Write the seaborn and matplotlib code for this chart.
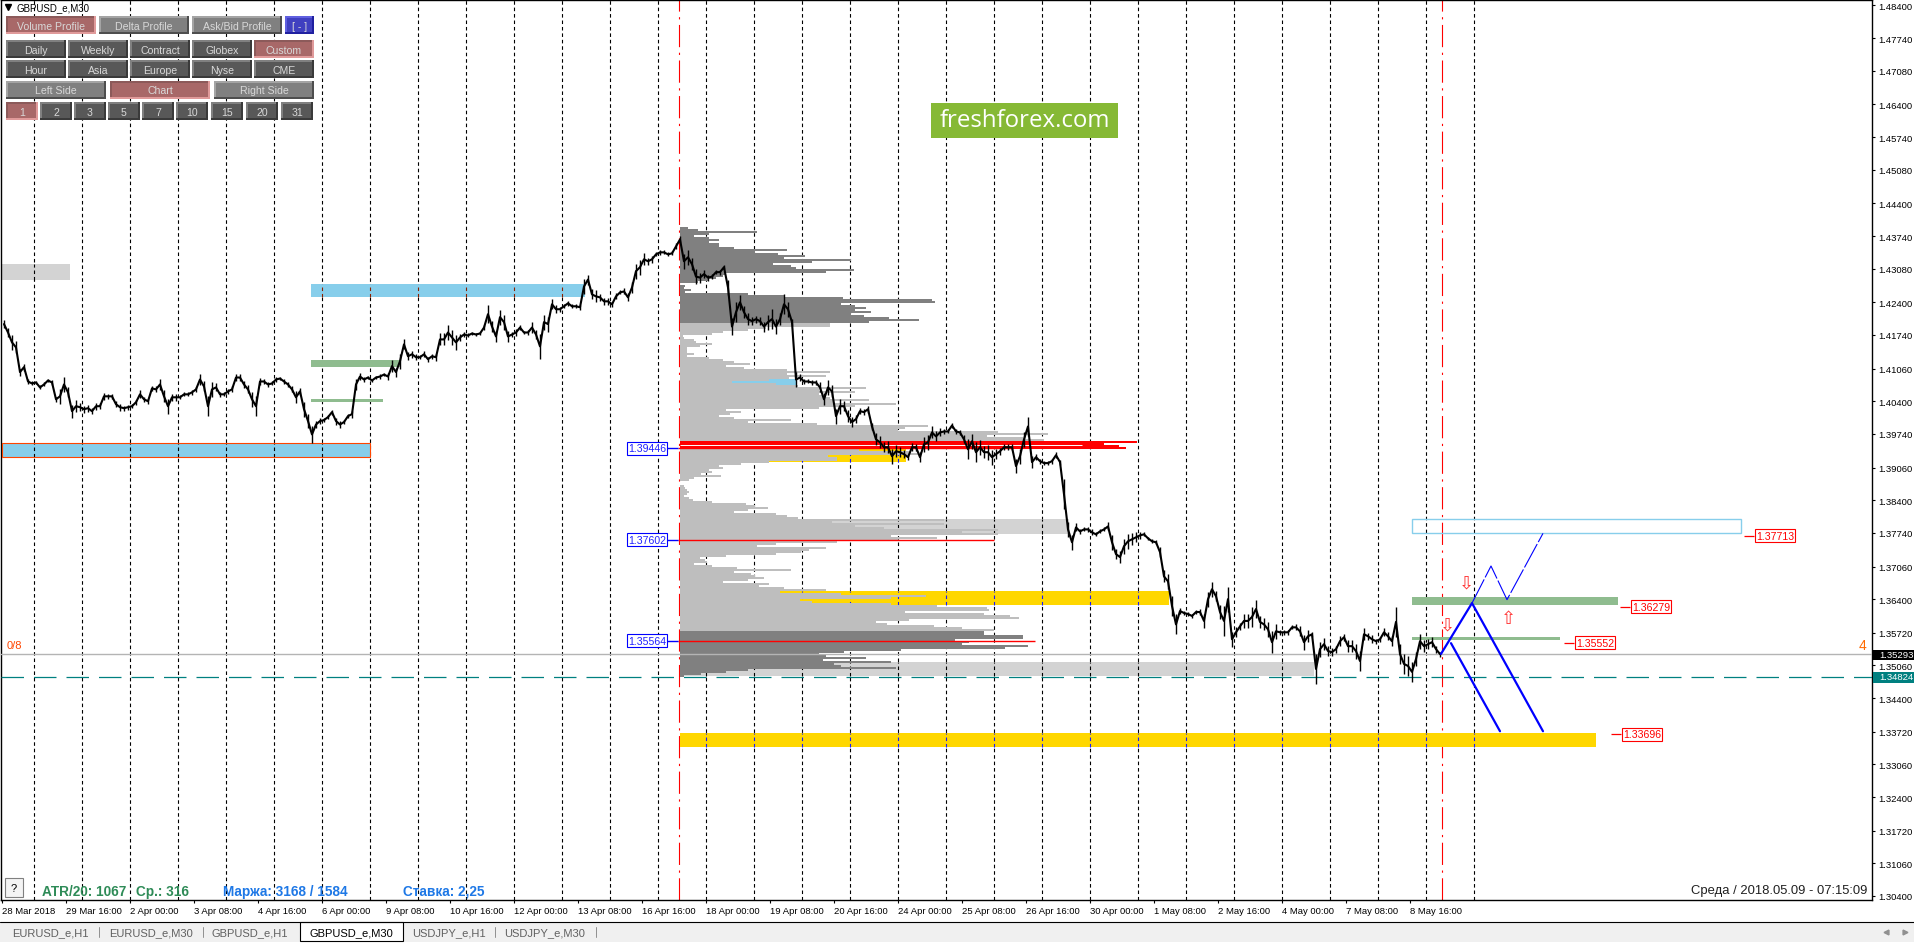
import numpy as np
import matplotlib
matplotlib.use("Agg")
import matplotlib.pyplot as plt
from matplotlib.patches import Rectangle
import seaborn as sns

# price path, every 4 bars
price_a = [1.4196,1.4179,1.4159,1.4149,1.4099,1.4109,1.4080,1.4076,1.4078,1.4068,1.4074,1.4082,1.4078,1.4044,1.4050,1.4074,1.4058,1.4020,1.4030,1.4028,
           1.4024,1.4026,1.4020,1.4030,1.4030,1.4050,1.4050,1.4050,1.4034,1.4028,1.4026,1.4028,1.4030,1.4038,1.4054,1.4044,1.4040,1.4066,1.4064,1.4074,
           1.4050,1.4030,1.4048,1.4048,1.4048,1.4054,1.4054,1.4058,1.4064,1.4084,1.4070,1.4030,1.4064,1.4068,1.4054,1.4054,1.4060,1.4064,1.4088,1.4088,
           1.4074,1.4064,1.4044,1.4030,1.4080,1.4080,1.4074,1.4076,1.4084,1.4086,1.4080,1.4074,1.4064,1.4048,1.4060,1.4024,1.4000,1.3973,1.3993,1.4000,
           1.4002,1.4008,1.4018,1.4000,1.3993,1.3998,1.4010,1.4014,1.4074,1.4090,1.4084,1.4088,1.4082,1.4088,1.4090,1.4094,1.4090,1.4111,1.4099]
price_b = [1.4121,1.4155,1.4131,1.4135,1.4129,1.4129,1.4135,1.4125,1.4131,1.4129,1.4165,1.4165,1.4179,1.4169,1.4159,1.4169,1.4175,1.4173,1.4177,1.4175,
           1.4177,1.4189,1.4216,1.4191,1.4171,1.4210,1.4200,1.4171,1.4175,1.4179,1.4189,1.4179,1.4179,1.4189,1.4175,1.4151,1.4200,1.4196,1.4236,1.4226,
           1.4226,1.4232,1.4238,1.4232,1.4232,1.4230,1.4272,1.4286,1.4256,1.4252,1.4250,1.4242,1.4242,1.4236,1.4252,1.4260,1.4262,1.4250,1.4270,1.4303,
           1.4311,1.4327,1.4323,1.4327,1.4337,1.4341,1.4341,1.4337,1.4339,1.4353,1.4367,1.4323,1.4331,1.4317,1.4292]
price_c = [1.4290,1.4297,1.4290,1.4292,1.4301,1.4301,1.4311,1.4270,1.4191,1.4220,1.4240,1.4220,1.4206,1.4202,1.4206,1.4202,1.4191,1.4200,1.4206,1.4191,
           1.4206,1.4236,1.4226,1.4200,1.4084,1.4088,1.4080,1.4080,1.4078,1.4078,1.4068,1.4044,1.4068,1.4060,1.4010,1.4030,1.4030,1.4010,1.3998,1.4004,
           1.4020,1.4018,1.4024,1.3989,1.3963,1.3957,1.3947,1.3947,1.3929,1.3939,1.3937,1.3933,1.3927,1.3947,1.3947,1.3927,1.3953,1.3957,1.3977,1.3969,
           1.3977,1.3979,1.3979,1.3991,1.3979,1.3977,1.3963,1.3943,1.3959,1.3937,1.3947,1.3937,1.3937,1.3927,1.3933,1.3939,1.3947,1.3947,1.3947,1.3909,
           1.3929,1.3963,1.3989,1.3917,1.3927,1.3919,1.3915,1.3915,1.3919,1.3931,1.3917]
price_d = [1.3852,1.3781,1.3755,1.3785,1.3777,1.3781,1.3781,1.3775,1.3771,1.3777,1.3781,1.3787,1.3755,1.3731,1.3725,1.3747,1.3757,1.3761,1.3765,1.3769,
           1.3771,1.3763,1.3757,1.3755,1.3735,1.3686,1.3676,1.3626,1.3589,1.3616,1.3612,1.3610,1.3606,1.3614,1.3614,1.3596,1.3640,1.3660,1.3646,1.3614,
           1.3596,1.3640,1.3559,1.3573,1.3585,1.3596,1.3596,1.3604,1.3620,1.3594,1.3589,1.3579,1.3553,1.3575,1.3573,1.3573,1.3573,1.3583,1.3583,1.3575,
           1.3553,1.3565,1.3569,1.3499,1.3539,1.3549,1.3535,1.3533,1.3539,1.3555,1.3563,1.3545,1.3545,1.3535,1.3515,1.3569,1.3565,1.3559,1.3555,1.3559,
           1.3573,1.3565,1.3555,1.3594,1.3529,1.3509,1.3505,1.3493,1.3519,1.3555,1.3545,1.3549,1.3553,1.3539,1.3529]

# high-low range around the path in pips, same 4-bar steps
range_a = [16,20,30,24,14,14,10,8,6,8,8,8,10,10,30,30,20,26,24,16,14,14,12,14,12,14,10,10,12,14,10,10,8,10,16,10,10,10,12,24,
           24,30,14,14,8,8,8,10,10,24,20,40,30,16,10,8,10,12,16,14,14,16,30,40,16,12,10,8,12,8,12,10,12,24,14,30,30,36,16,12,
           8,8,10,14,16,8,8,14,24,14,12,8,8,8,10,6,14,24,18]
range_b = [30,20,16,14,12,8,12,10,10,14,24,24,30,30,30,14,10,8,8,6,8,10,36,24,24,30,30,24,12,16,10,8,10,24,20,50,30,30,20,16,
           10,8,10,8,8,10,30,20,20,24,14,14,14,10,12,8,12,16,24,30,30,24,14,14,8,10,8,8,8,12,16,30,30,24,30]
range_c = [20,16,12,10,8,10,8,30,36,40,30,24,24,16,14,16,20,30,40,30,24,40,30,14,30,14,10,8,10,10,20,24,30,24,30,30,20,24,20,16,
           12,12,14,14,24,24,20,24,30,24,20,16,10,16,14,20,30,30,24,20,16,10,8,10,10,10,16,40,30,40,30,24,30,30,20,14,12,12,12,30,
           30,30,40,24,12,10,8,8,10,12,10]
range_d = [60,30,30,16,10,8,10,12,8,8,8,16,30,20,24,30,30,24,20,14,8,6,8,8,20,24,30,40,40,14,10,8,10,8,12,30,30,30,20,30,
           60,50,30,20,14,30,30,40,36,24,24,30,44,30,10,10,10,8,12,20,30,24,10,60,30,24,20,16,14,20,14,24,24,30,40,24,14,16,10,10,
           16,16,20,60,40,40,40,40,30,30,24,20,20,14,10]

# volume profile, one row per price bin, width in bars
profile_top = 1.43905
profile_step = 0.000404
profile_dark_a = [8,18,77,29,14,29,39,29,39,39,54,107,75,98,125,104,171,132,93,111,116,174,146,46,43,36,29,18,0,5,4,11,5]
profile_dark_b = [68,104,163,252,255,161,175,186,175,191,171,184,209,239,189]
profile_light_a = [150,150,86,68,43,32,3,4,14,16,32,20,7,7,7,14,7,29,43,54,70,46,64,107,150,107,146,109,
                   89,52,96,118,186,139,175,139,146,150,189,154,216,175,139,46,61,50,39,54,111,68,137,248,225,218,318,368,307,343,364]
profile_poc = [457,424,439,446]
profile_light_b = [179,229,239,148,157,157,89,61,39,43,29,32,21,41,14,9,0,0,4,5,7,9,7,4,9,13,32,66,75,88,68,54,96,107,118,264,152,264,175,204,
                   318,282,318,211,257,218,157,96,77,146,129,121,96,46,20,25,27,14,32,57,111,54,71,75,84,68,43,89,79,104,146,100,161,246,211,120,
                   132,211,257,307,309,225,304,330,339,229,196,207,254,282,314]
profile_dark_c = [304,304,343,343,275,289,282,348,325,221,164,139,146,186,143,211,154,161,216,68,46,21,4]

# zones: first bar, last bar, upper price, lower price
zone_names = ["grey_old","sky_top","sky_left","green_a","green_b","sky_inner","yellow_a","grey_mid","yellow_b","grey_low","yellow_c","green_c","green_d"]
zone_start = [0,309,0,309,309,678,678,678,678,678,678,1410,1410]
zone_end = [68,583,368,398,381,795,904,1067,1167,1312,1594,1616,1558]
zone_high = [1.4317,1.4278,1.3956,1.4123,1.4044,1.4084,1.3943,1.3802,1.3656,1.3513,1.3369,1.3644,1.3563]
zone_low = [1.4286,1.4251,1.3927,1.4109,1.4038,1.4070,1.3917,1.3771,1.3628,1.3485,1.3342,1.3628,1.3557]
zone_colour = ["#d3d3d3","#87ceeb","#87ceeb","#8fbc8f","#8fbc8f","#87ceeb","#ffd700","#d3d3d3","#ffd700","#d3d3d3","#ffd700","#8fbc8f","#8fbc8f"]
zone_dash = ["black","#8b2000","black",None,None,None,"#1a1aff","black","#1a1aff","black","#1a1aff",None,None]

# scenario lines
plan_bars = [1439,1470,1541]
plan_price = [1.35293,1.3632,1.3373]
plan2_bars = [1449,1498]
plan2_price = [1.3551,1.3373]
alt_bars = [1470,1489,1505,1541]
alt_price = [1.3632,1.3707,1.3639,1.3773]

# axis labels
y_ticks = [1.48400,1.47740,1.47080,1.46400,1.45740,1.45080,1.44400,1.43740,1.43080,1.42400,1.41740,1.41060,1.40400,1.39740,
           1.39060,1.38400,1.37740,1.37060,1.36400,1.35720,1.35060,1.34400,1.33720,1.33060,1.32400,1.31720,1.31060,1.30400]
x_labels = ["28 Mar 2018","29 Mar 16:00","2 Apr 00:00","3 Apr 08:00","4 Apr 16:00","6 Apr 00:00","9 Apr 08:00","10 Apr 16:00",
            "12 Apr 00:00","13 Apr 08:00","16 Apr 16:00","18 Apr 00:00","19 Apr 08:00","20 Apr 16:00","24 Apr 00:00","25 Apr 08:00",
            "26 Apr 16:00","30 Apr 00:00","1 May 08:00","2 May 16:00","4 May 00:00","7 May 08:00","8 May 16:00"]

sns.set_style("white")
plt.rcParams["font.family"] = ["Liberation Sans", "DejaVu Sans"]

fig = plt.figure(figsize=(19.15, 9.45), dpi=100, facecolor="white")
ax = fig.add_axes([1/1915, 44.5/945, 1871/1915, 900/945])
ax.set_xlim(-1, 1870)
ax.set_ylim(1.30329, 1.48521)

sep_dash = (0, (3.2, 2.6))

# one day is 48 bars
for b in np.arange(32.4, 1480, 48):
    ax.axvline(b, color="black", lw=0.8, ls=sep_dash, zorder=1)
for b in [677.5, 1439.7]:
    ax.axvline(b, color="red", lw=0.8, ls=(0, (20, 5, 2, 5)), zorder=1.5)

# zones
for i, name in enumerate(zone_names):
    ax.add_patch(Rectangle((zone_start[i], zone_low[i]), zone_end[i]-zone_start[i], zone_high[i]-zone_low[i],
                           fc=zone_colour[i], lw=0, zorder=2, antialiased=False))
    if zone_dash[i]:
        for b in np.arange(32.4, 1480, 48):
            if zone_start[i] < b < zone_end[i]:
                ax.plot([b, b], [zone_low[i], zone_high[i]], color=zone_dash[i], lw=0.8, ls=sep_dash, zorder=2.5)
ax.add_patch(Rectangle((0, 1.3927), 368, 0.0029, fc="none", ec="#ff4500", lw=0.8, zorder=2.6))
ax.add_patch(Rectangle((1410.5, 1.3774), 329, 0.0028, fc="none", ec="#87ceeb", lw=1.0, zorder=2.6))

# volume profile
widths = profile_dark_a + profile_dark_b + profile_light_a + profile_poc + profile_light_b + profile_dark_c
colours = (["#808080"]*(len(profile_dark_a)+len(profile_dark_b)) + ["#bebebe"]*len(profile_light_a)
           + ["#ff0000"]*len(profile_poc) + ["#bebebe"]*len(profile_light_b) + ["#808080"]*len(profile_dark_c))
levels = profile_top - profile_step*np.arange(len(widths))
ax.barh(levels, widths, left=678, height=profile_step*1.05, color=colours, lw=0, zorder=3, antialiased=False)
ax.hlines(1.3951, 678, 1080, color="white", lw=0.7, zorder=3.1)

# profile levels
for price, end in zip([1.39446, 1.37602, 1.35564], [1010, 992, 1033]):
    ax.hlines(price, 676, end, color="red", lw=1.0, zorder=4)
    ax.hlines(price, 664, 676, color="blue", lw=1.0, zorder=4)
    ax.text(664, price, f"{price:.5f}", ha="right", va="center", color="#2020ff", fontsize=7.6, zorder=6,
            bbox=dict(boxstyle="square,pad=0.12", fc="white", ec="blue", lw=0.8))

ax.axhline(1.35293, color="#b4b4b4", lw=1.0, zorder=4)
ax.axhline(1.34824, color="#008080", lw=0.9, ls=(0, (18, 8)), zorder=4)

price = np.array(price_a + price_b + price_c + price_d)
spread = np.array(range_a + range_b + range_c + range_d)*1e-4
bars = 2 + 4*np.arange(len(price))
sns.lineplot(x=bars, y=price, estimator=None, sort=False, color="black", lw=1.5, ax=ax, zorder=5, legend=False)
ax.vlines(bars, price-spread/2, price+spread/2, color="black", lw=1.0, zorder=5)

# scenario
sns.lineplot(x=plan_bars, y=plan_price, estimator=None, sort=False, color="#0000ff", lw=1.6, ax=ax, zorder=6)
sns.lineplot(x=plan2_bars, y=plan2_price, estimator=None, sort=False, color="#0000ff", lw=1.6, ax=ax, zorder=6)
ax.plot(alt_bars, alt_price, color="#0000ff", lw=0.8, ls=(0, (24, 2)), zorder=6)

# right hand price labels
for price_lbl, ts, te, tx in zip([1.37713, 1.36279, 1.35552, 1.33696], [1742, 1618, 1562, 1609], [1752, 1628, 1572, 1619], [1754, 1630, 1574, 1621]):
    ax.hlines(price_lbl - 0.0003, ts, te, color="red", lw=0.9, zorder=6)
    ax.text(tx, price_lbl - 0.0003, f"{price_lbl:.5f}", ha="left", va="center", color="red", fontsize=7.6, zorder=6,
            bbox=dict(boxstyle="square,pad=0.12", fc="white", ec="red", lw=0.8))

for b, p, s in [(1464, 1.3673, "⇩"), (1445, 1.3588, "⇩"), (1506, 1.3602, "⇧")]:
    ax.text(b, p, s, ha="center", va="center", color="#ff3030", fontsize=13, family="DejaVu Sans", zorder=7)

# axes
ax.yaxis.tick_right()
ax.set_yticks(y_ticks)
ax.set_yticklabels([f"{v:.5f}" for v in y_ticks], fontsize=6.8, color="black")
ax.set_xticks(64*np.arange(len(x_labels)))
ax.set_xticklabels(x_labels, fontsize=6.8, color="black", ha="left")
ax.tick_params(axis="both", length=2.5, width=0.8, color="black", pad=2, bottom=True, right=True, left=False)
for s in ax.spines.values():
    s.set_color("black")
    s.set_linewidth(1.0)
ax.set_xlabel("")
ax.set_ylabel("")

# window chrome in pixels
ui = fig.add_axes([0, 0, 1, 1], facecolor="none", zorder=10)
ui.set_xlim(0, 1915)
ui.set_ylim(945, 0)
ui.axis("off")

def button(label, x0, x1, y0, y1, style):
    base, tl, br = {"rose": ("#a86868", "#8c5a5a", "#e09a9a"), "mid": ("#808080", "#a4a4a4", "#4e4e4e"),
                    "dark": ("#585858", "#808080", "#3a3a3a"), "blue": ("#4040c0", "#6060e0", "#2020a0")}[style]
    ui.add_patch(Rectangle((x0, y0), x1-x0, y1-y0, fc=base, lw=0))
    ui.add_patch(Rectangle((x0, y0), x1-x0, 2, fc=tl, lw=0))
    ui.add_patch(Rectangle((x0, y0), 2, y1-y0, fc=tl, lw=0))
    ui.add_patch(Rectangle((x0, y1-2), x1-x0, 2, fc=br, lw=0))
    ui.add_patch(Rectangle((x1-2, y0), 2, y1-y0, fc=br, lw=0))
    ui.text((x0+x1)/2, (y0+y1)/2+0.5, label, ha="center", va="center", color="#d8d8d8", fontsize=7.6)

ui.plot([8], [8], marker="v", ms=5, color="black", lw=0)
ui.text(17, 8.5, "GBPUSD_e,M30", ha="left", va="center", fontsize=7, color="black")

button("Volume Profile", 6, 96, 17, 35, "rose")
button("Delta Profile", 99, 189, 17, 35, "mid")
button("Ask/Bid Profile", 192, 282, 17, 35, "mid")
button("[ - ]", 285, 314, 17, 35, "blue")
for x0, lbl_a, lbl_b in zip([6, 68, 130, 192, 254], ["Daily", "Weekly", "Contract", "Globex", "Custom"], ["Hour", "Asia", "Europe", "Nyse", "CME"]):
    button(lbl_a, x0, x0+60, 41, 59, "rose" if lbl_a == "Custom" else "dark")
    button(lbl_b, x0, x0+60, 61, 79, "dark")
button("Left Side", 6, 106, 82, 100, "mid")
button("Chart", 110, 210, 82, 100, "rose")
button("Right Side", 214, 314, 82, 100, "mid")
for x0, lbl in zip([6, 40, 74, 108, 142, 176, 211, 246, 281], ["1", "2", "3", "5", "7", "10", "15", "20", "31"]):
    button(lbl, x0, x0+32, 103, 121, "rose" if lbl == "1" else "dark")

# logo
ui.add_patch(Rectangle((931, 104), 187, 35, fc="#86b935", lw=0))
ui.text(1024.5, 121, "freshforex.com", ha="center", va="center", color="white", fontsize=17.3, family="Open Sans")

# info text
ui.text(7, 646, "0/8", color="#ff4500", fontsize=8, ha="left", va="center")
ui.text(1863, 645.5, "4", color="#ff6a00", fontsize=10, ha="center", va="center")
ui.add_patch(Rectangle((5, 879), 18, 19, fc="#f4f4f4", ec="#808080", lw=0.8))
ui.text(14, 889, "?", fontsize=8, ha="center", va="center", color="black")
ui.text(42, 892, "ATR/20: 1067", color="#2e8b57", fontsize=9.8, weight="bold", ha="left", va="center")
ui.text(136, 892, "Ср.: 316", color="#2e8b57", fontsize=9.8, weight="bold", ha="left", va="center")
ui.text(223, 892, "Маржа: 3168 / 1584", color="#1e78e6", fontsize=9.8, weight="bold", ha="left", va="center")
ui.text(403.5, 892, "Ставка: 2,25", color="#1e78e6", fontsize=9.8, weight="bold", ha="left", va="center")
ui.text(1867, 891, "Среда / 2018.05.09 - 07:15:09", color="#202020", fontsize=9.4, ha="right", va="center")

# price tags on the scale
ui.add_patch(Rectangle((1873, 650.5), 42, 10.5, fc="black", lw=0))
ui.text(1879, 655.5, "1.35293", color="white", fontsize=6.8, ha="left", va="center")
ui.add_patch(Rectangle((1873, 672.5), 42, 11, fc="#008080", lw=0))
ui.text(1879, 678, "1.34824", color="white", fontsize=6.8, ha="left", va="center")

# tab bar
ui.add_patch(Rectangle((0, 923), 1915, 20, fc="#f0f0f0", lw=0))
ui.plot([0, 1915], [923, 923], color="black", lw=0.8)
ui.add_patch(Rectangle((300, 923), 103, 19, fc="white", ec="black", lw=0.8))
for cx, tab in zip([50, 151, 250, 351, 449, 545], ["EURUSD_e,H1", "EURUSD_e,M30", "GBPUSD_e,H1", "GBPUSD_e,M30", "USDJPY_e,H1", "USDJPY_e,M30"]):
    ui.text(cx, 933, tab, ha="center", va="center", fontsize=8, color="black" if tab == "GBPUSD_e,M30" else "#606060")
for sx in [99, 203.5, 495, 596]:
    ui.plot([sx, sx], [928, 938], color="#909090", lw=0.7)
ui.plot([1886], [932.5], marker="<", ms=3.5, color="#909090", lw=0)
ui.plot([1905], [932.5], marker=">", ms=3.5, color="#909090", lw=0)

fig.savefig("out.png", dpi=100)
